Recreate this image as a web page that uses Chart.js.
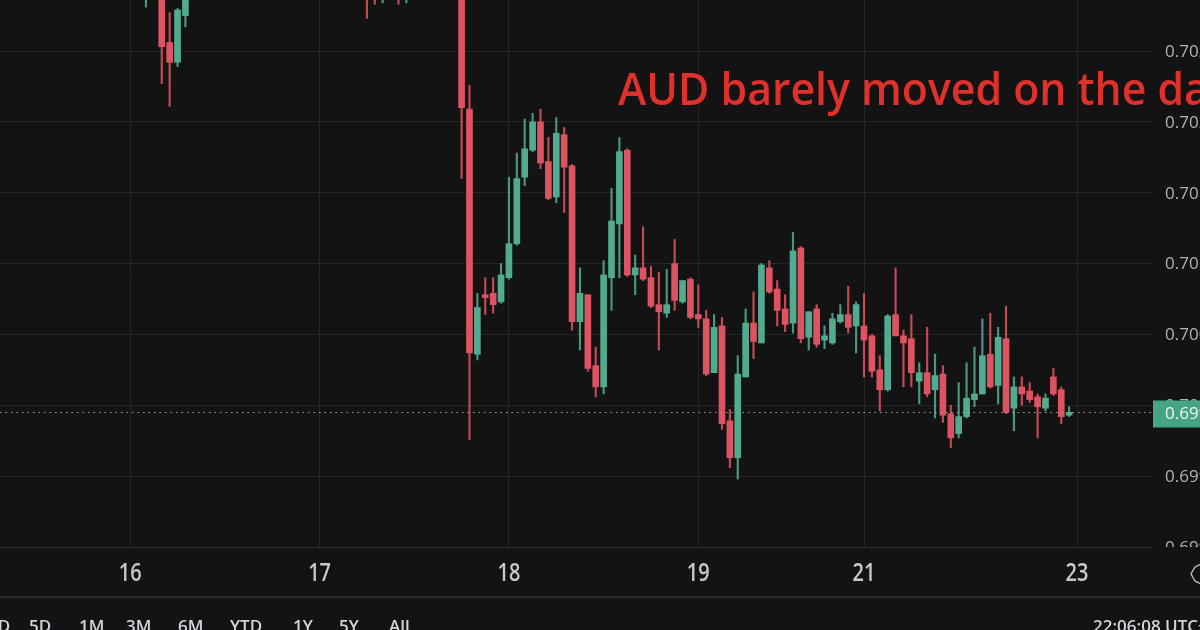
<!DOCTYPE html>
<html>
<head>
<meta charset="utf-8">
<script src="https://cdn.jsdelivr.net/npm/chart.js@4.4.1/dist/chart.umd.min.js"></script>
<style>
    html, body { margin: 0; padding: 0; background: #131313; overflow: hidden; }
    #wrap { position: relative; width: 1200px; height: 630px; overflow: hidden; }
    #wrap canvas { position: absolute; left: 0; top: 0; }
    .note {
        position: absolute; left: 618px; top: 64px;
        font: 600 46px "Open Sans", sans-serif; line-height: 1;
        color: #e0302b; white-space: nowrap;
        transform: scaleX(0.93); transform-origin: left top;
    }
    .bar { position: absolute; top: 617px; font: 600 17px "Open Sans", sans-serif; line-height: 1; color: #d1d4dc; white-space: nowrap; }
</style>
</head>
<body>
<div id="wrap">
    <canvas id="fx"></canvas>
    <div class="note">AUD barely moved on the day</div>
    <span class="bar" style="left:-12px">1D</span>
    <span class="bar" style="left:29px">5D</span>
    <span class="bar" style="left:79px">1M</span>
    <span class="bar" style="left:126px">3M</span>
    <span class="bar" style="left:178px">6M</span>
    <span class="bar" style="left:230px">YTD</span>
    <span class="bar" style="left:293px">1Y</span>
    <span class="bar" style="left:339px">5Y</span>
    <span class="bar" style="left:389px">All</span>
    <span class="bar" style="left:1093px">22:06:08 UTC+8</span>
</div>
<script>
/* ── AUD/USD hourly candles ── */

const leadSlots  = 18;
const trailSlots = 10;

// day labels on the time axis and the slot each one sits on
const dayTickSlots = [16, 40, 64, 88, 109, 136];
const dayTickText  = ['16', '17', '18', '19', '21', '23'];

// price axis
const priceMin  = 0.6990;
const priceMax  = 0.70286;
const priceStep = 0.0005;

// candles, one slot each; null = candle entirely above the visible window
const opens = [
    0.70295, null, 0.70310, 0.70256, 0.70242, 0.70275, null, null, null, null,
    null, null, null, null, null, null, null, null, null, null,
    null, null, null, null, null, null, null, null, 0.70320, 0.70300,
    0.70292, null, 0.70305, 0.70293, null, null, null, null, null, null,
    0.70310, 0.70209, 0.70036, 0.70078, 0.70079, 0.70073, 0.70090, 0.70114, 0.70161, 0.70180,
    0.70200, 0.70172, 0.70147, 0.70191, 0.70169, 0.70059, 0.70078, 0.70028, 0.70013, 0.70090,
    0.70128, 0.70180, 0.70092, 0.70097, 0.70090, 0.70071, 0.70065, 0.70100, 0.70073, 0.70089,
    0.70064, 0.70061, 0.70023, 0.70056, 0.69989, 0.69963, 0.70020, 0.70058, 0.70044, 0.70097,
    0.70082, 0.70068, 0.70058, 0.70111, 0.70048, 0.70068, 0.70046, 0.70044, 0.70059, 0.70064,
    0.70056, 0.70056, 0.70049, 0.70025, 0.70011, 0.70064, 0.70049, 0.70047, 0.70017, 0.70023,
    0.70011, 0.70022, 0.69994, 0.69980, 0.69992, 0.70004, 0.70008, 0.70036, 0.70014, 0.70047,
    0.69998, 0.70013, 0.70010, 0.70006, 0.69998, 0.70020, 0.70011, 0.69993,
];
const closes = [
    0.70320, null, 0.70253, 0.70242, 0.70279, 0.70300, null, null, null, null,
    null, null, null, null, null, null, null, null, null, null,
    null, null, null, null, null, null, null, null, 0.70295, 0.70292,
    0.70305, null, 0.70295, 0.70300, null, null, null, null, null, null,
    0.70210, 0.70037, 0.70069, 0.70076, 0.70071, 0.70092, 0.70114, 0.70160, 0.70181, 0.70200,
    0.70171, 0.70146, 0.70192, 0.70168, 0.70059, 0.70079, 0.70026, 0.70013, 0.70092, 0.70130,
    0.70179, 0.70092, 0.70097, 0.70089, 0.70070, 0.70066, 0.70071, 0.70074, 0.70088, 0.70062,
    0.70061, 0.70022, 0.70055, 0.69987, 0.69963, 0.70022, 0.70058, 0.70045, 0.70099, 0.70080,
    0.70067, 0.70057, 0.70109, 0.70047, 0.70066, 0.70043, 0.70049, 0.70061, 0.70064, 0.70055,
    0.70071, 0.70046, 0.70024, 0.70011, 0.70063, 0.70049, 0.70044, 0.70023, 0.70023, 0.70008,
    0.70021, 0.69993, 0.69977, 0.69992, 0.70005, 0.70008, 0.70035, 0.70013, 0.70048, 0.69995,
    0.70013, 0.70008, 0.70004, 0.69999, 0.70005, 0.70008, 0.69992, 0.69995,
];
const highs = [
    0.70330, null, 0.70320, 0.70277, 0.70280, 0.70310, null, null, null, null,
    null, null, null, null, null, null, null, null, null, null,
    null, null, null, null, null, null, null, null, 0.70330, 0.70310,
    0.70312, null, 0.70315, 0.70310, null, null, null, null, null, null,
    0.70320, 0.70226, 0.70079, 0.70090, 0.70090, 0.70100, 0.70161, 0.70178, 0.70202, 0.70206,
    0.70209, 0.70189, 0.70203, 0.70196, 0.70170, 0.70097, 0.70078, 0.70041, 0.70102, 0.70153,
    0.70189, 0.70181, 0.70106, 0.70126, 0.70098, 0.70094, 0.70096, 0.70117, 0.70088, 0.70090,
    0.70085, 0.70067, 0.70064, 0.70062, 0.69997, 0.70035, 0.70068, 0.70080, 0.70100, 0.70102,
    0.70088, 0.70078, 0.70122, 0.70112, 0.70066, 0.70071, 0.70056, 0.70065, 0.70071, 0.70084,
    0.70073, 0.70079, 0.70050, 0.70035, 0.70064, 0.70097, 0.70053, 0.70064, 0.70030, 0.70055,
    0.70036, 0.70028, 0.70000, 0.70016, 0.70030, 0.70041, 0.70061, 0.70065, 0.70055, 0.70070,
    0.70020, 0.70020, 0.70016, 0.70008, 0.70008, 0.70026, 0.70013, 0.69999,
];
const lows = [
    0.70281, null, 0.70227, 0.70211, 0.70239, 0.70267, null, null, null, null,
    null, null, null, null, null, null, null, null, null, null,
    null, null, null, null, null, null, null, null, 0.70273, 0.70283,
    0.70284, null, 0.70283, 0.70284, null, null, null, null, null, null,
    0.70160, 0.69976, 0.70032, 0.70064, 0.70065, 0.70072, 0.70089, 0.70113, 0.70155, 0.70179,
    0.70167, 0.70145, 0.70143, 0.70136, 0.70053, 0.70039, 0.70024, 0.70006, 0.70008, 0.70067,
    0.70090, 0.70091, 0.70078, 0.70088, 0.70069, 0.70039, 0.70062, 0.70067, 0.70072, 0.70061,
    0.70055, 0.70021, 0.70023, 0.69983, 0.69956, 0.69948, 0.70020, 0.70033, 0.70044, 0.70079,
    0.70056, 0.70052, 0.70051, 0.70044, 0.70039, 0.70041, 0.70040, 0.70043, 0.70058, 0.70051,
    0.70037, 0.70020, 0.70020, 0.69996, 0.70010, 0.70049, 0.70013, 0.70013, 0.70001, 0.70006,
    0.69991, 0.69988, 0.69970, 0.69977, 0.69991, 0.69999, 0.70008, 0.70012, 0.70001, 0.69994,
    0.69982, 0.70000, 0.70002, 0.69977, 0.69996, 0.70007, 0.69987, 0.69992,
];

const UP   = '#53ab8f';
const DOWN = '#dc5361';

const pad   = n => new Array(n).fill(null);
const slots = leadSlots + opens.length + trailSlots;
const labels = Array.from({ length: slots }, (_, i) => {
    const j = dayTickSlots.indexOf(i);
    return j >= 0 ? dayTickText[j] : '';
});

function candleColor(slot, alpha) {
    const i = slot - leadSlots;
    if (opens[i] == null) return 'transparent';
    const c = closes[i] >= opens[i] ? UP : DOWN;
    return alpha ? c + alpha : c;
}

const bodies = pad(leadSlots)
    .concat(opens.map((o, i) => o == null ? null : [o, closes[i]]))
    .concat(pad(trailSlots));
const wicks = pad(leadSlots)
    .concat(lows.map((l, i) => l == null ? null : [l, highs[i]]))
    .concat(pad(trailSlots));

const lastPrice = closes[closes.length - 1];

// price labels, current price line and tag, pane separator
const overlay = {
    id: 'overlay',
    afterDraw(chart) {
        const { ctx, chartArea: a, scales: { x, y } } = chart;
        ctx.save();

        // right price scale labels (clipped to the price pane)
        ctx.save();
        ctx.beginPath();
        ctx.rect(a.right, 0, chart.width - a.right, a.bottom);
        ctx.clip();
        ctx.font = '400 17px "Open Sans", sans-serif';
        ctx.fillStyle = '#b3b3b3';
        ctx.textBaseline = 'middle';
        y.ticks.forEach(t => {
            if (t.value > priceMax - 1e-7) return;
            ctx.fillText(t.value.toFixed(4), a.right + 13, y.getPixelForValue(t.value) + 1);
        });
        ctx.restore();

        // day labels under the time axis, condensed like the source
        ctx.font = '600 25px "Open Sans", sans-serif';
        ctx.fillStyle = '#c8c8c8';
        ctx.textAlign = 'center';
        ctx.textBaseline = 'middle';
        dayTickSlots.forEach((s, j) => {
            const px = x.getPixelForValue(s);
            ctx.save();
            ctx.translate(px, a.bottom + 27);
            ctx.scale(0.8, 1);
            ctx.fillText(dayTickText[j], 0, 0);
            ctx.restore();
        });

        // dotted last price line
        const py = Math.round(y.getPixelForValue(lastPrice)) + 0.5;
        ctx.strokeStyle = '#9aa8a2';
        ctx.lineWidth = 1;
        ctx.setLineDash([1.5, 4]);
        ctx.beginPath();
        ctx.moveTo(a.left, py);
        ctx.lineTo(a.right, py);
        ctx.stroke();
        ctx.setLineDash([]);

        // last price tag
        ctx.fillStyle = '#45a386';
        ctx.fillRect(a.right + 1, py - 12, chart.width - a.right, 27);
        ctx.font = '400 17px "Open Sans", sans-serif';
        ctx.fillStyle = '#eef6f2';
        ctx.textAlign = 'left';
        ctx.fillText(lastPrice.toFixed(5), a.right + 13, py + 2);

        // separator under the time axis
        ctx.fillStyle = '#2a2a2a';
        ctx.fillRect(0, a.bottom + 49, chart.width, 2);

        // scroll-to-realtime button, partly cut at the edge
        ctx.strokeStyle = '#bdbdbd';
        ctx.lineWidth = 1.4;
        ctx.beginPath();
        ctx.moveTo(1201, a.bottom + 17);
        ctx.lineTo(1195, a.bottom + 20);
        ctx.lineTo(1191, a.bottom + 27);
        ctx.lineTo(1195, a.bottom + 34);
        ctx.lineTo(1201, a.bottom + 37);
        ctx.stroke();

        ctx.restore();
    }
};

const canvas = document.getElementById('fx');
canvas.width = 1200;
canvas.height = 630;
canvas.style.width = '1200px';
canvas.style.height = '630px';

new Chart(canvas.getContext('2d'), {
    type: 'bar',
    data: {
        labels: labels,
        datasets: [
            {
                label:           'body',
                data:            bodies,
                backgroundColor: c => candleColor(c.dataIndex),
                barThickness:    6,
                minBarLength:    1,
                grouped:         false,
                borderWidth:     0,
            },
            {
                label:           'wick',
                data:            wicks,
                backgroundColor: c => candleColor(c.dataIndex, 'dd'),
                barThickness:    1.5,
                minBarLength:    1,
                grouped:         false,
                borderWidth:     0,
            },
        ],
    },
    options: {
        responsive:          false,
        animation:           false,
        events:              [],
        layout:              { padding: { left: 0, right: 0, top: 0, bottom: 33 } },
        plugins: {
            legend:  { display: false },
            tooltip: { enabled: false },
        },
        scales: {
            x: {
                type:   'category',
                offset: true,
                ticks:  { display: false, autoSkip: false },
                grid: {
                    offset:    false,
                    drawTicks: false,
                    color:     c => dayTickSlots.includes(c.index) ? '#252525' : 'transparent',
                },
                border:   { display: true, color: '#2b2b2b' },
                afterFit: s => { s.height = 50; },
            },
            y: {
                position: 'right',
                min:      priceMin,
                max:      priceMax,
                ticks:    { display: false, stepSize: priceStep },
                grid: {
                    drawTicks: false,
                    color:     c => (c.tick && c.tick.value > priceMax - 1e-7) ? 'transparent' : '#252525',
                },
                border:   { display: false },
                afterFit: s => { s.width = 48; },
            },
        },
    },
    plugins: [overlay],
});
</script>
</body>
</html>
